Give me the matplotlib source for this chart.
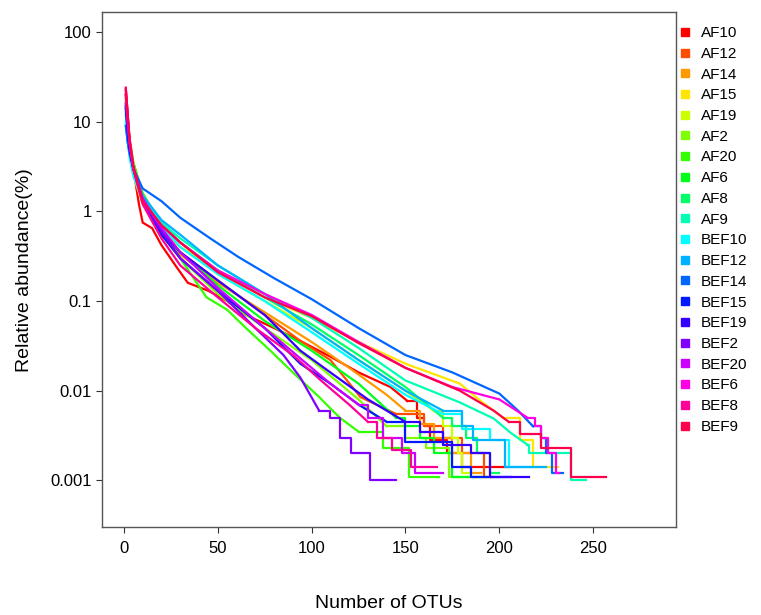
import colorsys
import matplotlib
matplotlib.use("Agg")
import matplotlib.pyplot as plt
from matplotlib.lines import Line2D

plt.rcParams['font.family'] = ['Liberation Sans', 'DejaVu Sans']

# sample names in legend order
samples = ["AF10", "AF12", "AF14", "AF15", "AF19", "AF2", "AF20", "AF6", "AF8", "AF9",
           "BEF10", "BEF12", "BEF14", "BEF15", "BEF19", "BEF2", "BEF20", "BEF6", "BEF8", "BEF9"]

# (rank, relative abundance %); head is drawn as a line,
# tail as steps (single reads at the end)
af10 = [(1, 23), (2, 12), (3, 6), (5, 3), (8, 1.2), (10, 0.75), (15, 0.65), (20, 0.42), (28, 0.24),
        (34, 0.16), (45, 0.13), (55, 0.1), (65, 0.07), (80, 0.05), (95, 0.035), (110, 0.024),
        (125, 0.016), (142, 0.011), (151, 0.0077)]
af10_tail = [(156, 0.005), (160, 0.004), (163, 0.0028), (172, 0.002), (180, 0.0014), (205, 0.0014)]

af12 = [(1, 20), (2, 11), (3, 6.5), (5, 3.5), (10, 1.5), (20, 0.6), (30, 0.35), (50, 0.17),
        (75, 0.07), (94, 0.036), (110, 0.022), (126, 0.0085), (145, 0.0055)]
af12_tail = [(160, 0.004), (170, 0.003), (180, 0.002), (192, 0.0011), (196, 0.0011)]

af14 = [(1, 18), (2, 10), (3, 6), (5, 3), (10, 1.3), (20, 0.55), (30, 0.33), (50, 0.16),
        (75, 0.075), (100, 0.035), (120, 0.018), (140, 0.009), (150, 0.006)]
af14_tail = [(158, 0.0043), (165, 0.003), (175, 0.002), (185, 0.0012), (190, 0.0012)]

af15 = [(1, 20), (2, 10), (3, 5), (5, 2.5), (10, 1.2), (20, 0.6), (30, 0.4), (50, 0.22),
        (75, 0.11), (100, 0.065), (125, 0.035), (150, 0.02), (179, 0.012), (190, 0.0077),
        (202, 0.005)]
af15_tail = [(211, 0.0028), (218, 0.0014), (231, 0.0014)]

af19 = [(1, 15), (2, 8), (3, 5), (5, 3), (10, 1.4), (20, 0.7), (30, 0.45), (50, 0.2),
        (75, 0.1), (100, 0.05), (125, 0.022), (150, 0.01), (165, 0.006)]
af19_tail = [(170, 0.004), (175, 0.003), (178, 0.002), (180, 0.0012), (185, 0.0012)]

af2 = [(1, 18), (2, 9), (3, 5), (5, 3), (10, 1.3), (20, 0.55), (30, 0.3), (50, 0.12),
       (75, 0.05), (100, 0.022), (125, 0.008), (140, 0.004)]
af2_tail = [(150, 0.003), (161, 0.0023), (173, 0.0011), (190, 0.0011)]

af20 = [(1, 16), (2, 9), (3, 6), (5, 3.5), (10, 1.6), (20, 0.7), (30, 0.3), (44, 0.11),
        (55, 0.08), (65, 0.05), (78, 0.028), (90, 0.016), (104, 0.0085), (115, 0.005),
        (125, 0.0035)]
af20_tail = [(138, 0.0023), (152, 0.0011), (168, 0.0011)]

af6 = [(1, 14), (2, 8), (3, 5), (5, 3), (10, 1.4), (20, 0.6), (30, 0.35), (50, 0.15),
       (75, 0.06), (100, 0.028), (125, 0.012), (145, 0.005)]
af6_tail = [(150, 0.004), (158, 0.003), (165, 0.002), (175, 0.0011), (193, 0.0011)]

af8 = [(1, 12), (2, 7), (3, 4.5), (5, 2.8), (10, 1.4), (20, 0.75), (30, 0.45), (50, 0.22),
       (75, 0.11), (100, 0.055), (125, 0.025), (150, 0.011), (170, 0.005)]
af8_tail = [(175, 0.004), (182, 0.003), (188, 0.002), (195, 0.0012), (200, 0.0012)]

af9 = [(1, 13), (2, 7), (3, 4.5), (5, 2.8), (10, 1.4), (20, 0.75), (30, 0.5), (50, 0.25),
       (75, 0.12), (100, 0.065), (125, 0.03), (150, 0.013), (179, 0.0074), (197, 0.0049),
       (206, 0.0034), (215, 0.0025)]
af9_tail = [(216, 0.002), (238, 0.001), (246, 0.001)]

bef10 = [(1, 10), (2, 6), (3, 4), (5, 2.5), (10, 1.3), (20, 0.7), (30, 0.4), (50, 0.2),
         (75, 0.1), (100, 0.045), (125, 0.02), (150, 0.009), (170, 0.0055)]
bef10_tail = [(180, 0.0037), (195, 0.0028), (205, 0.0014), (218, 0.0014)]

bef12 = [(1, 9), (2, 6), (3, 4.5), (5, 3), (10, 1.5), (20, 0.8), (30, 0.55), (50, 0.25),
         (75, 0.12), (100, 0.05), (125, 0.022), (150, 0.01), (170, 0.006)]
bef12_tail = [(180, 0.004), (186, 0.0028), (203, 0.0014), (225, 0.0014)]

bef14 = [(1, 9), (2, 6), (3, 4.5), (5, 3), (10, 1.8), (20, 1.3), (30, 0.85), (46, 0.5),
         (61, 0.31), (80, 0.18), (100, 0.105), (125, 0.05), (150, 0.025), (175, 0.016),
         (200, 0.0093), (210, 0.006), (218, 0.004)]
bef14_tail = [(222, 0.003), (225, 0.002), (228, 0.0012), (234, 0.0012)]

bef15 = [(1, 15), (2, 8), (3, 5), (5, 3), (10, 1.3), (20, 0.55), (30, 0.3), (50, 0.13),
         (75, 0.05), (94, 0.02), (110, 0.012), (125, 0.007), (140, 0.0045)]
bef15_tail = [(150, 0.0027), (175, 0.0014), (185, 0.0011), (206, 0.0011)]

bef19 = [(1, 14), (2, 8), (3, 5), (5, 3), (10, 1.3), (20, 0.6), (30, 0.35), (50, 0.17),
         (75, 0.07), (94, 0.028), (110, 0.016), (130, 0.008), (150, 0.0045)]
bef19_tail = [(158, 0.0035), (170, 0.0025), (185, 0.002), (195, 0.0011), (216, 0.0011)]

bef2 = [(1, 16), (2, 9), (3, 5.5), (5, 3), (10, 1.3), (20, 0.6), (30, 0.3), (50, 0.13),
        (70, 0.05), (85, 0.025), (94, 0.014), (104, 0.006)]
bef2_tail = [(110, 0.005), (115, 0.003), (121, 0.002), (131, 0.001), (145, 0.001)]

bef20 = [(1, 20), (2, 10), (3, 6), (5, 3), (10, 1.4), (20, 0.65), (30, 0.35), (50, 0.14),
         (75, 0.05), (95, 0.022), (110, 0.012), (125, 0.007)]
bef20_tail = [(130, 0.005), (138, 0.003), (148, 0.002), (155, 0.0012), (170, 0.0012)]

bef6 = [(1, 22), (2, 12), (3, 6), (5, 3), (10, 1.3), (20, 0.7), (30, 0.45), (50, 0.22),
        (75, 0.12), (100, 0.07), (125, 0.035), (150, 0.018), (175, 0.011), (200, 0.008),
        (215, 0.005)]
bef6_tail = [(219, 0.004), (222, 0.003), (226, 0.002), (230, 0.0012), (232, 0.0012)]

bef8 = [(1, 20), (2, 11), (3, 6), (5, 3), (10, 1.2), (20, 0.5), (30, 0.25), (50, 0.11),
        (70, 0.05), (90, 0.025), (105, 0.013), (120, 0.007), (130, 0.0045)]
bef8_tail = [(135, 0.003), (143, 0.0022), (153, 0.0014), (167, 0.0014)]

bef9 = [(1, 24), (2, 12), (3, 6.5), (5, 3.2), (10, 1.3), (20, 0.7), (30, 0.45), (50, 0.21),
        (75, 0.11), (100, 0.068), (125, 0.034), (150, 0.018), (179, 0.01), (197, 0.006),
        (205, 0.0045)]
bef9_tail = [(211, 0.0033), (222, 0.0023), (238, 0.0011), (257, 0.0011)]

heads = [af10, af12, af14, af15, af19, af2, af20, af6, af8, af9,
         bef10, bef12, bef14, bef15, bef19, bef2, bef20, bef6, bef8, bef9]
tails = [af10_tail, af12_tail, af14_tail, af15_tail, af19_tail, af2_tail, af20_tail, af6_tail,
         af8_tail, af9_tail, bef10_tail, bef12_tail, bef14_tail, bef15_tail, bef19_tail,
         bef2_tail, bef20_tail, bef6_tail, bef8_tail, bef9_tail]

y_ticks = [0.001, 0.01, 0.1, 1, 10, 100]
y_labels = ["0.001", "0.01", "0.1", "1", "10", "100"]
x_ticks = [0, 50, 100, 150, 200, 250]

# R rainbow(20)
colors = [colorsys.hsv_to_rgb(i / 20, 1, 1) for i in range(20)]

fig = plt.figure(figsize=(7.61, 6.15), dpi=100)
ax = fig.add_axes([0.134, 0.143, 0.754, 0.837])

for name, head, tail, c in zip(samples, heads, tails, colors):
    hx = [p[0] for p in head]
    hy = [p[1] for p in head]
    ax.plot(hx, hy, color=c, lw=1.6, solid_joinstyle='miter')
    tx = [hx[-1]] + [p[0] for p in tail]
    ty = [hy[-1]] + [p[1] for p in tail]
    ax.plot(tx, ty, color=c, lw=1.6, drawstyle='steps-post')

ax.set_yscale('log')
ax.set_xlim(-11.7, 294)
ax.set_ylim(10 ** -3.52, 10 ** 2.22)
ax.set_yticks(y_ticks)
ax.set_yticklabels(y_labels)
ax.minorticks_off()
ax.set_xticks(x_ticks)
ax.tick_params(labelsize=12, length=4, color='#333333')
ax.tick_params(axis='x', pad=6)
for s in ax.spines.values():
    s.set_color('#555555')
    s.set_linewidth(1.0)

ax.set_xlabel('Number of OTUs', fontsize=14, labelpad=28)
ax.set_ylabel('Relative abundance(%)', fontsize=14, labelpad=12)

handles = [Line2D([], [], ls='none', marker='s', markersize=6, color=c) for c in colors]
ax.legend(handles, samples, loc='upper left', bbox_to_anchor=(0.99, 0.985), frameon=False,
          fontsize=11, labelspacing=0.44, handletextpad=0.4, handlelength=1.2,
          borderaxespad=0.2, borderpad=0.2)

fig.savefig('out.png', dpi=100)
